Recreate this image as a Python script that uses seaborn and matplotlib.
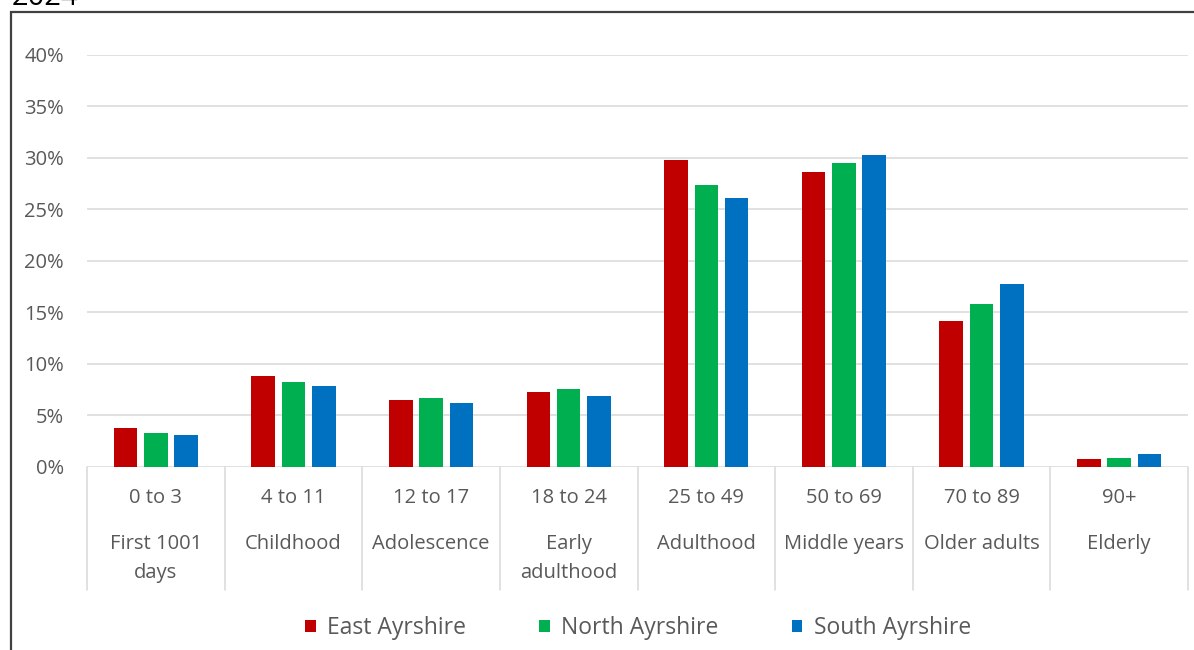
import matplotlib
matplotlib.use("Agg")
import matplotlib.pyplot as plt
import matplotlib.transforms as mtransforms
from matplotlib.patches import Patch, Rectangle
import pandas as pd
import seaborn as sns

# Share of population by life stage (%)
age_bands = ["0 to 3", "4 to 11", "12 to 17", "18 to 24",
             "25 to 49", "50 to 69", "70 to 89", "90+"]
life_stages = [["First 1001", "days"], ["Childhood"], ["Adolescence"],
               ["Early", "adulthood"], ["Adulthood"], ["Middle years"],
               ["Older adults"], ["Elderly"]]
regions = ["East Ayrshire", "North Ayrshire", "South Ayrshire"]
east_ayrshire = [3.75, 8.75, 6.5, 7.2, 29.8, 28.6, 14.1, 0.75]
north_ayrshire = [3.3, 8.2, 6.65, 7.5, 27.4, 29.5, 15.8, 0.8]
south_ayrshire = [3.1, 7.8, 6.2, 6.9, 26.1, 30.3, 17.7, 1.2]
region_colors = ["#C00000", "#00B050", "#0070C0"]
y_ticks = [0, 5, 10, 15, 20, 25, 30, 35, 40]

rows = []
for region, values in zip(regions, [east_ayrshire, north_ayrshire, south_ayrshire]):
    for band, v in zip(age_bands, values):
        rows.append({"band": band, "region": region, "share": v})
df = pd.DataFrame(rows)

sns.set_theme(style="white")
plt.rcParams["font.family"] = ["Open Sans", "DejaVu Sans"]

W, H = 1194, 650
fig = plt.figure(figsize=(W / 100, H / 100), dpi=100)
fig.patch.set_facecolor("white")

x0, x1, y_base, y_top = 87, 1188, 466.5, 55
ax = fig.add_axes([x0 / W, (H - y_base) / H, (x1 - x0) / W, (y_base - y_top) / H])

sns.barplot(data=df, x="band", y="share", hue="region", order=age_bands,
            hue_order=regions, palette=region_colors, width=0.66, gap=0.22,
            saturation=1, linewidth=0, ax=ax, legend=False, zorder=3)

grey = "#595959"
fs = 14.5
ax.set_ylim(0, 40)
ax.set_xlim(-0.5, len(age_bands) - 0.5)
ax.set_yticks(y_ticks)
ax.set_yticklabels([f"{t}%" for t in y_ticks], color=grey, fontsize=fs)
ax.tick_params(axis="y", length=0, pad=16.5)
ax.tick_params(axis="x", length=0, labelbottom=False)
ax.set_xlabel("")
ax.set_ylabel("")
for s in ax.spines.values():
    s.set_visible(False)
ax.yaxis.grid(True, color="#D9D9D9", linewidth=1.1, zorder=0)
ax.xaxis.grid(False)
ax.set_axisbelow(True)

# Two-level category axis: age band over life stage, boxed by separators
blend = mtransforms.blended_transform_factory(ax.transData, fig.transFigure)
def fy(py):
    return 1 - py / H

for k in range(len(age_bands) + 1):
    ax.plot([k - 0.5, k - 0.5], [fy(y_base), fy(590)], transform=blend,
            color="#D9D9D9", lw=1.1, clip_on=False, zorder=1)

for i, (band, stage) in enumerate(zip(age_bands, life_stages)):
    ax.text(i, fy(498), band, transform=blend, ha="center", va="center",
            color=grey, fontsize=fs)
    for j, line in enumerate(stage):
        ax.text(i, fy(544 + 29 * j), line, transform=blend, ha="center",
                va="center", color=grey, fontsize=fs)

handles = [Patch(facecolor=c, edgecolor="none", label=r)
           for r, c in zip(regions, region_colors)]
fig.legend(handles=handles, loc="center", bbox_to_anchor=(638 / W, fy(628)),
           ncol=3, frameon=False, fontsize=16.5, handlelength=0.45,
           handleheight=0.45, handletextpad=0.5, columnspacing=3.2,
           labelcolor=grey)

# Chart frame and the title line above it
fig.patches.append(Rectangle((11 / W, -0.1), 1.2, fy(12) + 0.1,
                             transform=fig.transFigure, fill=False,
                             edgecolor="#404040", linewidth=1.6))
fig.text(12 / W, fy(5), "2024", ha="left", va="baseline",
         fontsize=21, color="black")

fig.savefig("out.png", dpi=100, facecolor="white")
